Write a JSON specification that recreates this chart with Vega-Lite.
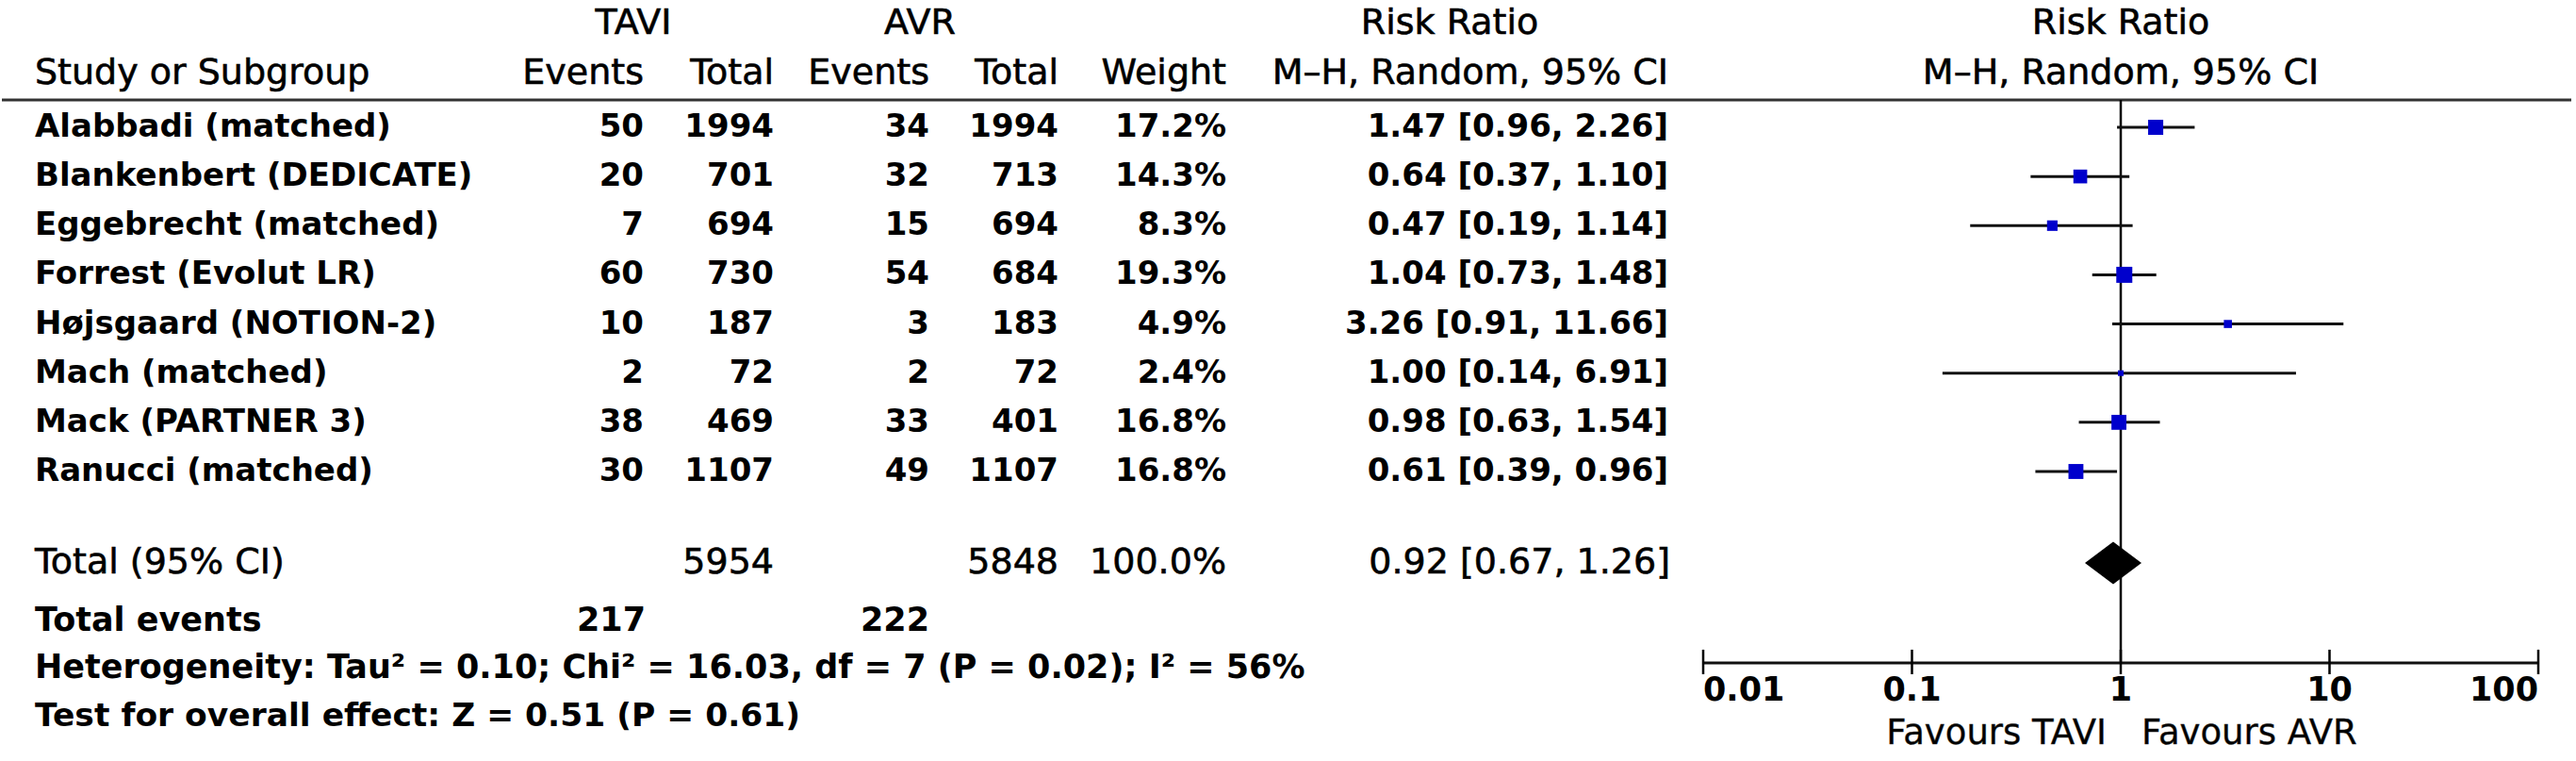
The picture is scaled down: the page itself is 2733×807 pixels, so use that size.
{
  "$schema": "https://vega.github.io/schema/vega-lite/v6.json",
  "width": 2733,
  "height": 807,
  "autosize": {"type": "fit", "contains": "padding"},
  "padding": 0,
  "background": "white",
  "config": {"view": {"stroke": null}, "text": {"font": "DejaVu Sans", "color": "black"}},
  "data": {"values": [{}]},
  "datasets": {
    "studies": [
      {"id": 1, "study": "Alabbadi (matched)", "e1": "50", "n1": "1994", "e2": "34", "n2": "1994", "weight": 0.172, "rr": 1.47, "lo": 0.96, "hi": 2.26, "rr_ci": "1.47 [0.96, 2.26]"},
      {"id": 2, "study": "Blankenbert (DEDICATE)", "e1": "20", "n1": "701", "e2": "32", "n2": "713", "weight": 0.143, "rr": 0.64, "lo": 0.37, "hi": 1.10, "rr_ci": "0.64 [0.37, 1.10]"},
      {"id": 3, "study": "Eggebrecht (matched)", "e1": "7", "n1": "694", "e2": "15", "n2": "694", "weight": 0.083, "rr": 0.47, "lo": 0.19, "hi": 1.14, "rr_ci": "0.47 [0.19, 1.14]"},
      {"id": 4, "study": "Forrest (Evolut LR)", "e1": "60", "n1": "730", "e2": "54", "n2": "684", "weight": 0.193, "rr": 1.04, "lo": 0.73, "hi": 1.48, "rr_ci": "1.04 [0.73, 1.48]"},
      {"id": 5, "study": "Højsgaard (NOTION-2)", "e1": "10", "n1": "187", "e2": "3", "n2": "183", "weight": 0.049, "rr": 3.26, "lo": 0.91, "hi": 11.66, "rr_ci": "3.26 [0.91, 11.66]"},
      {"id": 6, "study": "Mach (matched)", "e1": "2", "n1": "72", "e2": "2", "n2": "72", "weight": 0.024, "rr": 1.00, "lo": 0.14, "hi": 6.91, "rr_ci": "1.00 [0.14, 6.91]"},
      {"id": 7, "study": "Mack (PARTNER 3)", "e1": "38", "n1": "469", "e2": "33", "n2": "401", "weight": 0.168, "rr": 0.98, "lo": 0.63, "hi": 1.54, "rr_ci": "0.98 [0.63, 1.54]"},
      {"id": 8, "study": "Ranucci (matched)", "e1": "30", "n1": "1107", "e2": "49", "n2": "1107", "weight": 0.168, "rr": 0.61, "lo": 0.39, "hi": 0.96, "rr_ci": "0.61 [0.39, 0.96]"}
    ],
    "pooled": [
      {"label": "Total (95% CI)", "n1": "5954", "n2": "5848", "weight": 1.0, "rr": 0.92, "lo": 0.67, "hi": 1.26, "rr_ci": "0.92 [0.67, 1.26]", "events_label": "Total events", "e1": "217", "e2": "222"}
    ],
    "ticks": [
      {"v": 0.01, "label": "0.01"},
      {"v": 0.1, "label": "0.1"},
      {"v": 1, "label": "1"},
      {"v": 10, "label": "10"},
      {"v": 100, "label": "100"}
    ]
  },
  "resolve": {"scale": {"x": "independent"}},
  "layer": [
    {
      "layer": [
        {"mark": {"type": "rule", "strokeWidth": 3, "color": "#333333"},
         "encoding": {"x": {"datum": 2, "type": "quantitative", "scale": {"domain": [0, 2733], "nice": false, "zero": false}, "axis": null}, "x2": {"datum": 2728},
                      "y": {"datum": 0.444, "type": "quantitative", "scale": {"domain": [-1.589, 13.888], "reverse": true, "nice": false, "zero": false}, "axis": null}}},
        {"mark": {"type": "text", "text": "TAVI", "align": "center", "baseline": "middle", "fontSize": 38, "stroke": "black", "strokeWidth": 0.6},
         "encoding": {"x": {"datum": 672, "type": "quantitative", "scale": {"domain": [0, 2733], "nice": false, "zero": false}, "axis": null},
                      "y": {"datum": -1.11, "type": "quantitative", "scale": {"domain": [-1.589, 13.888], "reverse": true, "nice": false, "zero": false}, "axis": null}}},
        {"mark": {"type": "text", "text": "AVR", "align": "center", "baseline": "middle", "fontSize": 38, "stroke": "black", "strokeWidth": 0.6},
         "encoding": {"x": {"datum": 976, "type": "quantitative", "scale": {"domain": [0, 2733], "nice": false, "zero": false}, "axis": null},
                      "y": {"datum": -1.11, "type": "quantitative", "scale": {"domain": [-1.589, 13.888], "reverse": true, "nice": false, "zero": false}, "axis": null}}},
        {"mark": {"type": "text", "text": "Risk Ratio", "align": "center", "baseline": "middle", "fontSize": 38, "stroke": "black", "strokeWidth": 0.6},
         "encoding": {"x": {"datum": 1538, "type": "quantitative", "scale": {"domain": [0, 2733], "nice": false, "zero": false}, "axis": null},
                      "y": {"datum": -1.11, "type": "quantitative", "scale": {"domain": [-1.589, 13.888], "reverse": true, "nice": false, "zero": false}, "axis": null}}},
        {"mark": {"type": "text", "text": "Study or Subgroup", "align": "left", "baseline": "middle", "fontSize": 38, "stroke": "black", "strokeWidth": 0.6},
         "encoding": {"x": {"datum": 37, "type": "quantitative", "scale": {"domain": [0, 2733], "nice": false, "zero": false}, "axis": null},
                      "y": {"datum": -0.093, "type": "quantitative", "scale": {"domain": [-1.589, 13.888], "reverse": true, "nice": false, "zero": false}, "axis": null}}},
        {"mark": {"type": "text", "text": "Events", "align": "right", "baseline": "middle", "fontSize": 38, "stroke": "black", "strokeWidth": 0.6},
         "encoding": {"x": {"datum": 683, "type": "quantitative", "scale": {"domain": [0, 2733], "nice": false, "zero": false}, "axis": null},
                      "y": {"datum": -0.093, "type": "quantitative", "scale": {"domain": [-1.589, 13.888], "reverse": true, "nice": false, "zero": false}, "axis": null}}},
        {"mark": {"type": "text", "text": "Total", "align": "right", "baseline": "middle", "fontSize": 38, "stroke": "black", "strokeWidth": 0.6},
         "encoding": {"x": {"datum": 821, "type": "quantitative", "scale": {"domain": [0, 2733], "nice": false, "zero": false}, "axis": null},
                      "y": {"datum": -0.093, "type": "quantitative", "scale": {"domain": [-1.589, 13.888], "reverse": true, "nice": false, "zero": false}, "axis": null}}},
        {"mark": {"type": "text", "text": "Events", "align": "right", "baseline": "middle", "fontSize": 38, "stroke": "black", "strokeWidth": 0.6},
         "encoding": {"x": {"datum": 986, "type": "quantitative", "scale": {"domain": [0, 2733], "nice": false, "zero": false}, "axis": null},
                      "y": {"datum": -0.093, "type": "quantitative", "scale": {"domain": [-1.589, 13.888], "reverse": true, "nice": false, "zero": false}, "axis": null}}},
        {"mark": {"type": "text", "text": "Total", "align": "right", "baseline": "middle", "fontSize": 38, "stroke": "black", "strokeWidth": 0.6},
         "encoding": {"x": {"datum": 1123, "type": "quantitative", "scale": {"domain": [0, 2733], "nice": false, "zero": false}, "axis": null},
                      "y": {"datum": -0.093, "type": "quantitative", "scale": {"domain": [-1.589, 13.888], "reverse": true, "nice": false, "zero": false}, "axis": null}}},
        {"mark": {"type": "text", "text": "Weight", "align": "right", "baseline": "middle", "fontSize": 38, "stroke": "black", "strokeWidth": 0.6},
         "encoding": {"x": {"datum": 1301, "type": "quantitative", "scale": {"domain": [0, 2733], "nice": false, "zero": false}, "axis": null},
                      "y": {"datum": -0.093, "type": "quantitative", "scale": {"domain": [-1.589, 13.888], "reverse": true, "nice": false, "zero": false}, "axis": null}}},
        {"mark": {"type": "text", "text": "M–H, Random, 95% CI", "align": "right", "baseline": "middle", "fontSize": 38, "stroke": "black", "strokeWidth": 0.6},
         "encoding": {"x": {"datum": 1770, "type": "quantitative", "scale": {"domain": [0, 2733], "nice": false, "zero": false}, "axis": null},
                      "y": {"datum": -0.093, "type": "quantitative", "scale": {"domain": [-1.589, 13.888], "reverse": true, "nice": false, "zero": false}, "axis": null}}},
        {
          "data": {"name": "studies"},
          "encoding": {"y": {"field": "id", "type": "quantitative", "scale": {"domain": [-1.589, 13.888], "reverse": true, "nice": false, "zero": false}, "axis": null}},
          "layer": [
            {"mark": {"type": "text", "align": "left", "baseline": "middle", "fontSize": 34, "fontWeight": "bold"},
             "encoding": {"x": {"datum": 37, "type": "quantitative", "scale": {"domain": [0, 2733], "nice": false, "zero": false}, "axis": null}, "text": {"field": "study", "type": "nominal"}}},
            {"mark": {"type": "text", "align": "right", "baseline": "middle", "fontSize": 34, "fontWeight": "bold"},
             "encoding": {"x": {"datum": 683, "type": "quantitative", "scale": {"domain": [0, 2733], "nice": false, "zero": false}, "axis": null}, "text": {"field": "e1", "type": "nominal"}}},
            {"mark": {"type": "text", "align": "right", "baseline": "middle", "fontSize": 34, "fontWeight": "bold"},
             "encoding": {"x": {"datum": 821, "type": "quantitative", "scale": {"domain": [0, 2733], "nice": false, "zero": false}, "axis": null}, "text": {"field": "n1", "type": "nominal"}}},
            {"mark": {"type": "text", "align": "right", "baseline": "middle", "fontSize": 34, "fontWeight": "bold"},
             "encoding": {"x": {"datum": 986, "type": "quantitative", "scale": {"domain": [0, 2733], "nice": false, "zero": false}, "axis": null}, "text": {"field": "e2", "type": "nominal"}}},
            {"mark": {"type": "text", "align": "right", "baseline": "middle", "fontSize": 34, "fontWeight": "bold"},
             "encoding": {"x": {"datum": 1123, "type": "quantitative", "scale": {"domain": [0, 2733], "nice": false, "zero": false}, "axis": null}, "text": {"field": "n2", "type": "nominal"}}},
            {"mark": {"type": "text", "align": "right", "baseline": "middle", "fontSize": 34, "fontWeight": "bold"},
             "encoding": {"x": {"datum": 1301, "type": "quantitative", "scale": {"domain": [0, 2733], "nice": false, "zero": false}, "axis": null}, "text": {"field": "weight", "type": "quantitative", "format": ".1%"}}},
            {"mark": {"type": "text", "align": "right", "baseline": "middle", "fontSize": 34, "fontWeight": "bold"},
             "encoding": {"x": {"datum": 1770, "type": "quantitative", "scale": {"domain": [0, 2733], "nice": false, "zero": false}, "axis": null}, "text": {"field": "rr_ci", "type": "nominal"}}}
          ]
        },
        {
          "data": {"name": "pooled"},
          "layer": [
            {"mark": {"type": "text", "align": "left", "baseline": "middle", "fontSize": 38, "stroke": "black", "strokeWidth": 0.6},
             "encoding": {"x": {"datum": 37, "type": "quantitative", "scale": {"domain": [0, 2733], "nice": false, "zero": false}, "axis": null},
                          "y": {"datum": 9.86, "type": "quantitative", "scale": {"domain": [-1.589, 13.888], "reverse": true, "nice": false, "zero": false}, "axis": null},
                          "text": {"field": "label", "type": "nominal"}}},
            {"mark": {"type": "text", "align": "right", "baseline": "middle", "fontSize": 38, "stroke": "black", "strokeWidth": 0.6},
             "encoding": {"x": {"datum": 821, "type": "quantitative", "scale": {"domain": [0, 2733], "nice": false, "zero": false}, "axis": null},
                          "y": {"datum": 9.86, "type": "quantitative", "scale": {"domain": [-1.589, 13.888], "reverse": true, "nice": false, "zero": false}, "axis": null},
                          "text": {"field": "n1", "type": "nominal"}}},
            {"mark": {"type": "text", "align": "right", "baseline": "middle", "fontSize": 38, "stroke": "black", "strokeWidth": 0.6},
             "encoding": {"x": {"datum": 1123, "type": "quantitative", "scale": {"domain": [0, 2733], "nice": false, "zero": false}, "axis": null},
                          "y": {"datum": 9.86, "type": "quantitative", "scale": {"domain": [-1.589, 13.888], "reverse": true, "nice": false, "zero": false}, "axis": null},
                          "text": {"field": "n2", "type": "nominal"}}},
            {"mark": {"type": "text", "align": "right", "baseline": "middle", "fontSize": 38, "stroke": "black", "strokeWidth": 0.6},
             "encoding": {"x": {"datum": 1301, "type": "quantitative", "scale": {"domain": [0, 2733], "nice": false, "zero": false}, "axis": null},
                          "y": {"datum": 9.86, "type": "quantitative", "scale": {"domain": [-1.589, 13.888], "reverse": true, "nice": false, "zero": false}, "axis": null},
                          "text": {"field": "weight", "type": "quantitative", "format": ".1%"}}},
            {"mark": {"type": "text", "align": "right", "baseline": "middle", "fontSize": 38, "stroke": "black", "strokeWidth": 0.6},
             "encoding": {"x": {"datum": 1772, "type": "quantitative", "scale": {"domain": [0, 2733], "nice": false, "zero": false}, "axis": null},
                          "y": {"datum": 9.86, "type": "quantitative", "scale": {"domain": [-1.589, 13.888], "reverse": true, "nice": false, "zero": false}, "axis": null},
                          "text": {"field": "rr_ci", "type": "nominal"}}},
            {"mark": {"type": "text", "align": "left", "baseline": "middle", "fontSize": 35, "fontWeight": "bold"},
             "encoding": {"x": {"datum": 37, "type": "quantitative", "scale": {"domain": [0, 2733], "nice": false, "zero": false}, "axis": null},
                          "y": {"datum": 11.03, "type": "quantitative", "scale": {"domain": [-1.589, 13.888], "reverse": true, "nice": false, "zero": false}, "axis": null},
                          "text": {"field": "events_label", "type": "nominal"}}},
            {"mark": {"type": "text", "align": "right", "baseline": "middle", "fontSize": 35, "fontWeight": "bold"},
             "encoding": {"x": {"datum": 685, "type": "quantitative", "scale": {"domain": [0, 2733], "nice": false, "zero": false}, "axis": null},
                          "y": {"datum": 11.03, "type": "quantitative", "scale": {"domain": [-1.589, 13.888], "reverse": true, "nice": false, "zero": false}, "axis": null},
                          "text": {"field": "e1", "type": "nominal"}}},
            {"mark": {"type": "text", "align": "right", "baseline": "middle", "fontSize": 35, "fontWeight": "bold"},
             "encoding": {"x": {"datum": 986, "type": "quantitative", "scale": {"domain": [0, 2733], "nice": false, "zero": false}, "axis": null},
                          "y": {"datum": 11.03, "type": "quantitative", "scale": {"domain": [-1.589, 13.888], "reverse": true, "nice": false, "zero": false}, "axis": null},
                          "text": {"field": "e2", "type": "nominal"}}}
          ]
        },
        {"mark": {"type": "text", "text": "Heterogeneity: Tau² = 0.10; Chi² = 16.03, df = 7 (P = 0.02); I² = 56%", "align": "left", "baseline": "middle", "fontSize": 35, "fontWeight": "bold"},
         "encoding": {"x": {"datum": 37, "type": "quantitative", "scale": {"domain": [0, 2733], "nice": false, "zero": false}, "axis": null},
                      "y": {"datum": 11.989, "type": "quantitative", "scale": {"domain": [-1.589, 13.888], "reverse": true, "nice": false, "zero": false}, "axis": null}}},
        {"mark": {"type": "text", "text": "Test for overall effect: Z = 0.51 (P = 0.61)", "align": "left", "baseline": "middle", "fontSize": 34.5, "fontWeight": "bold"},
         "encoding": {"x": {"datum": 37, "type": "quantitative", "scale": {"domain": [0, 2733], "nice": false, "zero": false}, "axis": null},
                      "y": {"datum": 12.986, "type": "quantitative", "scale": {"domain": [-1.589, 13.888], "reverse": true, "nice": false, "zero": false}, "axis": null}}}
      ]
    },
    {
      "layer": [
        {"mark": {"type": "rule", "strokeWidth": 2.5, "color": "black"},
         "encoding": {"x": {"datum": 1, "type": "quantitative", "scale": {"type": "log", "domain": [0.01, 100], "range": [1807, 2693], "nice": false}, "axis": null},
                      "y": {"datum": 0.444, "type": "quantitative", "scale": {"domain": [-1.589, 13.888], "reverse": true, "nice": false, "zero": false}, "axis": null},
                      "y2": {"datum": 11.893}}},
        {"data": {"name": "studies"},
         "mark": {"type": "rule", "strokeWidth": 3, "color": "#111111"},
         "encoding": {"x": {"field": "lo", "type": "quantitative", "scale": {"type": "log", "domain": [0.01, 100], "range": [1807, 2693], "nice": false}, "axis": null},
                      "x2": {"field": "hi"},
                      "y": {"field": "id", "type": "quantitative", "scale": {"domain": [-1.589, 13.888], "reverse": true, "nice": false, "zero": false}, "axis": null}}},
        {"data": {"name": "studies"},
         "mark": {"type": "point", "shape": "square", "filled": true, "color": "#0000cc", "opacity": 1},
         "encoding": {"x": {"field": "rr", "type": "quantitative", "scale": {"type": "log", "domain": [0.01, 100], "range": [1807, 2693], "nice": false}, "axis": null},
                      "y": {"field": "id", "type": "quantitative", "scale": {"domain": [-1.589, 13.888], "reverse": true, "nice": false, "zero": false}, "axis": null},
                      "size": {"field": "weight", "type": "quantitative", "scale": {"type": "linear", "domain": [0, 0.193], "range": [0, 289], "zero": true}, "legend": null}}},
        {"data": {"name": "pooled"},
         "mark": {"type": "point", "shape": "M-1,0L0,-0.75L1,0L0,0.75Z", "filled": true, "color": "black", "opacity": 1, "size": 3600},
         "encoding": {"x": {"field": "rr", "type": "quantitative", "scale": {"type": "log", "domain": [0.01, 100], "range": [1807, 2693], "nice": false}, "axis": null},
                      "y": {"datum": 9.86, "type": "quantitative", "scale": {"domain": [-1.589, 13.888], "reverse": true, "nice": false, "zero": false}, "axis": null}}},
        {"mark": {"type": "rule", "strokeWidth": 3, "color": "#111111"},
         "encoding": {"x": {"datum": 0.01, "type": "quantitative", "scale": {"type": "log", "domain": [0.01, 100], "range": [1807, 2693], "nice": false}, "axis": null},
                      "x2": {"datum": 100},
                      "y": {"datum": 11.893, "type": "quantitative", "scale": {"domain": [-1.589, 13.888], "reverse": true, "nice": false, "zero": false}, "axis": null}}},
        {"data": {"name": "ticks"},
         "mark": {"type": "rule", "strokeWidth": 2.5, "color": "black"},
         "encoding": {"x": {"field": "v", "type": "quantitative", "scale": {"type": "log", "domain": [0.01, 100], "range": [1807, 2693], "nice": false}, "axis": null},
                      "y": {"datum": 11.624, "type": "quantitative", "scale": {"domain": [-1.589, 13.888], "reverse": true, "nice": false, "zero": false}, "axis": null},
                      "y2": {"datum": 12.123}}},
        {"data": {"name": "ticks"},
         "transform": [{"filter": "datum.v == 0.01"}],
         "mark": {"type": "text", "align": "left", "baseline": "middle", "fontSize": 35, "fontWeight": "bold"},
         "encoding": {"x": {"field": "v", "type": "quantitative", "scale": {"type": "log", "domain": [0.01, 100], "range": [1807, 2693], "nice": false}, "axis": null},
                      "y": {"datum": 12.449, "type": "quantitative", "scale": {"domain": [-1.589, 13.888], "reverse": true, "nice": false, "zero": false}, "axis": null},
                      "text": {"field": "label", "type": "nominal"}}},
        {"data": {"name": "ticks"},
         "transform": [{"filter": "datum.v > 0.01 && datum.v < 100"}],
         "mark": {"type": "text", "align": "center", "baseline": "middle", "fontSize": 35, "fontWeight": "bold"},
         "encoding": {"x": {"field": "v", "type": "quantitative", "scale": {"type": "log", "domain": [0.01, 100], "range": [1807, 2693], "nice": false}, "axis": null},
                      "y": {"datum": 12.449, "type": "quantitative", "scale": {"domain": [-1.589, 13.888], "reverse": true, "nice": false, "zero": false}, "axis": null},
                      "text": {"field": "label", "type": "nominal"}}},
        {"data": {"name": "ticks"},
         "transform": [{"filter": "datum.v == 100"}],
         "mark": {"type": "text", "align": "right", "baseline": "middle", "fontSize": 35, "fontWeight": "bold"},
         "encoding": {"x": {"field": "v", "type": "quantitative", "scale": {"type": "log", "domain": [0.01, 100], "range": [1807, 2693], "nice": false}, "axis": null},
                      "y": {"datum": 12.449, "type": "quantitative", "scale": {"domain": [-1.589, 13.888], "reverse": true, "nice": false, "zero": false}, "axis": null},
                      "text": {"field": "label", "type": "nominal"}}},
        {"mark": {"type": "text", "text": "Favours TAVI", "align": "right", "baseline": "middle", "fontSize": 37, "dx": -15, "stroke": "#222222", "strokeWidth": 0.4},
         "encoding": {"x": {"datum": 1, "type": "quantitative", "scale": {"type": "log", "domain": [0.01, 100], "range": [1807, 2693], "nice": false}, "axis": null},
                      "y": {"datum": 13.332, "type": "quantitative", "scale": {"domain": [-1.589, 13.888], "reverse": true, "nice": false, "zero": false}, "axis": null}}},
        {"mark": {"type": "text", "text": "Favours AVR", "align": "left", "baseline": "middle", "fontSize": 37, "dx": 22, "stroke": "#222222", "strokeWidth": 0.4},
         "encoding": {"x": {"datum": 1, "type": "quantitative", "scale": {"type": "log", "domain": [0.01, 100], "range": [1807, 2693], "nice": false}, "axis": null},
                      "y": {"datum": 13.332, "type": "quantitative", "scale": {"domain": [-1.589, 13.888], "reverse": true, "nice": false, "zero": false}, "axis": null}}},
        {"mark": {"type": "text", "text": "Risk Ratio", "align": "center", "baseline": "middle", "fontSize": 38, "stroke": "black", "strokeWidth": 0.6},
         "encoding": {"x": {"datum": 1, "type": "quantitative", "scale": {"type": "log", "domain": [0.01, 100], "range": [1807, 2693], "nice": false}, "axis": null},
                      "y": {"datum": -1.11, "type": "quantitative", "scale": {"domain": [-1.589, 13.888], "reverse": true, "nice": false, "zero": false}, "axis": null}}},
        {"mark": {"type": "text", "text": "M–H, Random, 95% CI", "align": "center", "baseline": "middle", "fontSize": 38, "stroke": "black", "strokeWidth": 0.6},
         "encoding": {"x": {"datum": 1, "type": "quantitative", "scale": {"type": "log", "domain": [0.01, 100], "range": [1807, 2693], "nice": false}, "axis": null},
                      "y": {"datum": -0.093, "type": "quantitative", "scale": {"domain": [-1.589, 13.888], "reverse": true, "nice": false, "zero": false}, "axis": null}}}
      ]
    }
  ]
}
